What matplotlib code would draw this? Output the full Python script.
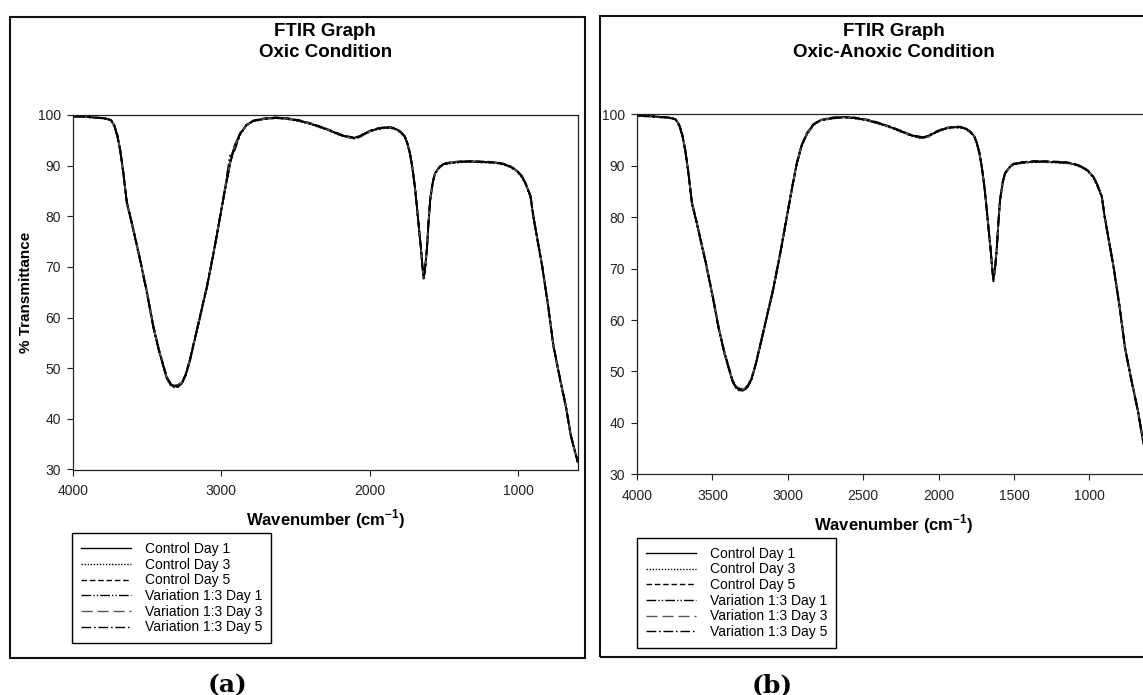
import matplotlib
matplotlib.use('Agg')
import matplotlib.pyplot as plt
from matplotlib.patches import Rectangle

plt.rcParams['font.family'] = ['Liberation Sans', 'DejaVu Sans']
plt.rcParams['mathtext.fontset'] = 'custom'
plt.rcParams['mathtext.rm'] = 'Liberation Sans'
plt.rcParams['mathtext.bf'] = 'Liberation Sans:bold'

# wavenumber grid (cm-1)
wn = [4000, 3950, 3900, 3850, 3800, 3760, 3740, 3720, 3700, 3680,
      3660, 3636, 3600, 3546, 3500, 3457, 3420, 3389, 3365, 3340,
      3315, 3290, 3265, 3240, 3210, 3160, 3097, 3050, 3007, 2970,
      2940, 2910, 2873, 2830, 2786, 2738, 2700, 2632, 2560, 2477,
      2400, 2300, 2190, 2150, 2112, 2070, 2035, 1990, 1946, 1900,
      1858, 1820, 1792, 1765, 1747, 1730, 1714, 1695, 1681, 1665,
      1655, 1645, 1637, 1628, 1615, 1605, 1593, 1575, 1560, 1530,
      1505, 1450, 1372, 1300, 1220, 1151, 1100, 1053, 1010, 974,
      950, 918, 900, 870, 840, 800, 764, 720, 680, 645, 600]

# % transmittance, control samples
ctrl_d1 = [99.7, 99.7, 99.6, 99.5, 99.4, 99.2, 98.9, 97.9, 96.0, 93.0,
           88.8, 82.8, 78.4, 71.4, 64.9, 58.2, 53.6, 50.4, 48.0, 46.8,
           46.4, 46.5, 47.1, 48.6, 51.7, 58.0, 66.0, 73.0, 80.0, 86.0,
           90.5, 93.8, 96.3, 98.0, 98.8, 99.1, 99.3, 99.5, 99.3, 98.9,
           98.3, 97.3, 96.0, 95.7, 95.5, 95.7, 96.3, 96.9, 97.3, 97.5,
           97.5, 97.2, 96.6, 95.8, 94.4, 92.5, 89.8, 85.5, 81.4, 76.5,
           73.6, 70.0, 67.8, 69.5, 73.6, 78.5, 83.3, 86.8, 88.5, 89.7,
           90.3, 90.6, 90.8, 90.8, 90.7, 90.6, 90.3, 89.8, 89.0, 87.8,
           86.4, 84.0, 80.2, 75.2, 70.3, 62.5, 54.5, 48.0, 42.5, 36.5, 31.5]
ctrl_d3 = [99.8, 99.6, 99.6, 99.5, 99.3, 99.2, 98.8, 97.7, 95.8, 92.8,
           88.6, 82.6, 78.2, 71.2, 64.7, 58.0, 53.4, 50.2, 47.8, 46.6,
           46.2, 46.3, 47.0, 48.5, 51.5, 57.8, 65.8, 72.8, 79.8, 85.8,
           90.3, 93.6, 96.1, 97.9, 98.8, 99.0, 99.3, 99.4, 99.2, 98.8,
           98.2, 97.2, 95.9, 95.6, 95.3, 95.6, 96.2, 96.8, 97.2, 97.4,
           97.4, 97.1, 96.5, 95.7, 94.3, 92.3, 89.6, 85.3, 81.2, 76.3,
           73.4, 69.8, 67.5, 69.3, 73.4, 78.3, 83.1, 86.6, 88.4, 89.6,
           90.2, 90.5, 90.7, 90.7, 90.6, 90.5, 90.2, 89.7, 88.9, 87.6,
           86.2, 83.8, 80.0, 75.0, 70.1, 62.3, 54.3, 47.8, 42.3, 36.3, 31.3]
ctrl_d5 = [99.6, 99.7, 99.6, 99.4, 99.4, 99.1, 99.0, 98.0, 96.2, 93.2,
           89.0, 83.0, 78.6, 71.6, 65.1, 58.4, 53.8, 50.6, 48.2, 47.0,
           46.6, 46.7, 47.3, 48.8, 51.9, 58.2, 66.2, 73.2, 80.2, 86.2,
           90.7, 94.0, 96.4, 98.1, 98.9, 99.2, 99.4, 99.5, 99.4, 99.0,
           98.4, 97.4, 96.1, 95.8, 95.6, 95.8, 96.4, 97.0, 97.4, 97.6,
           97.6, 97.3, 96.7, 95.9, 94.5, 92.6, 89.9, 85.7, 81.6, 76.7,
           73.8, 70.2, 68.0, 69.7, 73.8, 78.7, 83.5, 87.0, 88.6, 89.8,
           90.4, 90.7, 90.9, 90.9, 90.8, 90.7, 90.4, 89.9, 89.1, 87.9,
           86.5, 84.1, 80.4, 75.4, 70.5, 62.7, 54.7, 48.2, 42.7, 36.7, 31.7]

# variation 1:3, oxic condition
oxic_v1 = [99.9, 99.8, 99.6, 99.5, 99.4, 99.2, 98.9, 97.8, 95.9, 92.9,
           88.7, 82.7, 78.3, 71.3, 64.8, 58.1, 53.5, 50.3, 47.9, 46.7,
           46.3, 46.4, 47.0, 48.5, 51.6, 57.9, 65.9, 72.9, 79.9, 86.4,
           92.2, 93.0, 96.2, 98.0, 98.8, 99.1, 99.3, 99.4, 99.3, 98.9,
           98.3, 97.3, 96.0, 95.7, 95.5, 95.7, 96.3, 96.9, 97.3, 97.5,
           97.5, 97.2, 96.6, 95.8, 94.4, 92.5, 89.8, 85.5, 81.4, 76.5,
           73.6, 70.0, 67.7, 69.5, 73.6, 78.5, 83.3, 86.8, 88.5, 89.7,
           90.3, 90.6, 90.8, 90.8, 90.7, 90.6, 90.3, 89.8, 89.0, 87.8,
           86.4, 84.0, 80.2, 75.2, 70.3, 62.5, 54.5, 48.0, 42.5, 36.5, 31.5]
oxic_v3 = [99.7, 99.6, 99.6, 99.5, 99.4, 99.2, 98.9, 97.9, 96.1, 93.1,
           88.9, 82.9, 78.5, 71.5, 65.0, 58.3, 53.7, 50.5, 48.1, 46.9,
           46.5, 46.6, 47.2, 48.7, 51.8, 58.1, 66.1, 73.1, 80.1, 86.1,
           90.6, 93.9, 96.3, 98.0, 98.8, 99.1, 99.3, 99.4, 99.3, 98.9,
           98.3, 97.3, 96.0, 95.6, 95.4, 95.6, 96.2, 96.9, 97.3, 97.5,
           97.5, 97.2, 96.6, 95.8, 94.4, 92.5, 89.8, 85.5, 81.4, 76.5,
           73.6, 70.0, 67.9, 69.6, 73.7, 78.6, 83.4, 86.9, 88.5, 89.7,
           90.3, 90.6, 90.8, 90.8, 90.7, 90.6, 90.3, 89.8, 89.0, 87.8,
           86.4, 84.0, 80.2, 75.2, 70.3, 62.5, 54.5, 48.0, 42.5, 36.5, 31.5]
oxic_v5 = [99.8, 99.7, 99.6, 99.5, 99.4, 99.2, 98.9, 97.9, 96.0, 93.0,
           88.8, 82.8, 78.4, 71.4, 64.9, 58.2, 53.6, 50.4, 48.0, 46.8,
           46.5, 46.4, 47.1, 48.6, 51.7, 58.0, 66.0, 73.0, 80.0, 86.0,
           90.5, 93.8, 96.3, 98.0, 98.8, 99.1, 99.2, 99.4, 99.3, 98.9,
           98.3, 97.3, 96.0, 95.7, 95.5, 95.7, 96.3, 96.9, 97.3, 97.5,
           97.5, 97.2, 96.6, 95.8, 94.4, 92.5, 89.8, 85.5, 81.4, 76.5,
           73.6, 70.0, 67.8, 69.5, 73.6, 78.5, 83.3, 86.8, 88.5, 89.7,
           90.3, 90.6, 90.8, 90.8, 90.7, 90.6, 90.3, 89.8, 89.0, 87.8,
           86.4, 84.0, 80.2, 75.2, 70.3, 62.5, 54.5, 48.0, 42.5, 36.5, 31.5]

# variation 1:3, oxic-anoxic condition
anox_v1 = [99.8, 99.7, 99.6, 99.5, 99.4, 99.2, 98.8, 97.8, 95.9, 92.9,
           88.7, 82.7, 78.3, 71.3, 64.8, 58.1, 53.5, 50.3, 47.9, 46.7,
           46.3, 46.4, 47.0, 48.5, 51.6, 57.9, 65.9, 72.9, 79.9, 85.9,
           90.4, 93.7, 96.2, 97.9, 98.8, 99.1, 99.3, 99.4, 99.3, 98.9,
           98.3, 97.3, 96.0, 95.7, 95.5, 95.7, 96.3, 96.9, 97.3, 97.5,
           97.5, 97.2, 96.6, 95.8, 94.4, 92.5, 89.8, 85.5, 81.4, 76.5,
           73.6, 70.0, 67.8, 69.5, 73.6, 78.5, 83.3, 86.8, 88.5, 89.7,
           90.3, 90.6, 90.8, 90.8, 90.7, 90.6, 90.3, 89.8, 89.0, 87.8,
           86.4, 84.0, 80.2, 75.2, 70.3, 62.5, 54.5, 48.0, 42.5, 36.5, 31.5]
anox_v3 = [99.7, 99.6, 99.6, 99.5, 99.4, 99.2, 98.9, 97.9, 96.1, 93.1,
           88.9, 82.9, 78.5, 71.5, 65.0, 58.3, 53.7, 50.5, 48.1, 46.9,
           46.5, 46.6, 47.2, 48.7, 51.8, 58.1, 66.1, 73.1, 80.1, 86.1,
           90.6, 93.9, 96.3, 98.0, 98.8, 99.1, 99.3, 99.4, 99.3, 98.9,
           98.3, 97.3, 96.0, 95.6, 95.4, 95.6, 96.2, 96.9, 97.3, 97.5,
           97.5, 97.2, 96.6, 95.8, 94.4, 92.5, 89.8, 85.5, 81.4, 76.5,
           73.6, 70.0, 67.9, 69.6, 73.7, 78.6, 83.4, 86.9, 88.5, 89.7,
           90.3, 90.6, 90.8, 90.8, 90.7, 90.6, 90.3, 89.8, 89.0, 87.8,
           86.4, 84.0, 80.2, 75.2, 70.3, 62.5, 54.5, 48.0, 42.5, 36.5, 31.5]
anox_v5 = [99.8, 99.7, 99.6, 99.5, 99.4, 99.2, 98.9, 97.9, 96.0, 93.0,
           88.8, 82.8, 78.4, 71.4, 64.9, 58.2, 53.6, 50.4, 48.0, 46.8,
           46.5, 46.4, 47.1, 48.6, 51.7, 58.0, 66.0, 73.0, 80.0, 86.0,
           90.5, 93.8, 96.3, 98.0, 98.8, 99.1, 99.2, 99.4, 99.3, 98.9,
           98.3, 97.3, 96.0, 95.7, 95.5, 95.7, 96.3, 96.9, 97.3, 97.5,
           97.5, 97.2, 96.6, 95.8, 94.4, 92.5, 89.8, 85.5, 81.4, 76.5,
           73.6, 70.0, 67.8, 69.5, 73.6, 78.5, 83.3, 86.8, 88.5, 89.7,
           90.3, 90.6, 90.8, 90.8, 90.7, 90.6, 90.3, 89.8, 89.0, 87.8,
           86.4, 84.0, 80.2, 75.2, 70.3, 62.5, 54.5, 48.0, 42.5, 36.5, 31.5]

labels = ['Control Day 1', 'Control Day 3', 'Control Day 5',
          'Variation 1:3 Day 1', 'Variation 1:3 Day 3', 'Variation 1:3 Day 5']
styles = [('-', 'black'),
          ((0, (1, 1.2)), 'black'),
          ((0, (4, 2)), 'black'),
          ((0, (7, 1.5, 1, 1.5, 1, 1.5)), 'black'),
          ((0, (8, 3.5)), '#555555'),
          ((0, (7, 2, 1.2, 2)), 'black')]

W, H = 1143, 695


def fx(px):
    return px / W


def fy(py):
    return 1 - py / H


fig = plt.figure(figsize=(W / 100, H / 100), dpi=100)

# outer frames round each panel
for x0, x1, y0, y1 in [(10, 585, 16.5, 658), (600, 1160, 16, 657)]:
    fig.patches.append(Rectangle((fx(x0), fy(y1)), fx(x1) - fx(x0), fy(y0) - fy(y1),
                                 transform=fig.transFigure, fill=False,
                                 lw=1.5, ec='#111111'))

panels = [
    dict(box=(72.7, 577.7, 115, 469.5), series=[ctrl_d1, ctrl_d3, ctrl_d5, oxic_v1, oxic_v3, oxic_v5],
         title='FTIR Graph\nOxic Condition', ticks=[4000, 3000, 2000, 1000],
         xlab_y=525, leg=(71.6, 533), tag='(a)', tag_x=227),
    dict(box=(637, 1149.8, 114.3, 474.3), series=[ctrl_d1, ctrl_d3, ctrl_d5, anox_v1, anox_v3, anox_v5],
         title='FTIR Graph\nOxic-Anoxic Condition', ticks=[4000, 3500, 3000, 2500, 2000, 1500, 1000],
         xlab_y=530, leg=(636.9, 537.7), tag='(b)', tag_x=772),
]

for p in panels:
    left, right, top, bottom = p['box']
    ax = fig.add_axes([fx(left), fy(bottom), fx(right) - fx(left), fy(top) - fy(bottom)])
    for vals, lab, (ls, col) in zip(p['series'], labels, styles):
        ax.plot(wn, vals, ls=ls, color=col, lw=1.3, label=lab)
    ax.set_xlim(4000, 600)
    ax.set_ylim(30, 100)
    ax.set_xticks(p['ticks'])
    ax.set_yticks(range(30, 101, 10))
    for s in ax.spines.values():
        s.set_linewidth(0.9)
        s.set_color('#222222')
    ax.tick_params(direction='out', length=4.5, width=0.8, labelsize=10,
                   labelcolor='#222222', color='#222222')
    ax.tick_params(axis='x', pad=6)
    ax.tick_params(axis='y', pad=4)

    cx = (left + right) / 2
    fig.text(fx(cx), fy(42), p['title'], ha='center', va='center',
             fontsize=13.5, fontweight='bold', linespacing=1.25)
    fig.text(fx(cx), fy(p['xlab_y']), r'Wavenumber (cm$^{\mathbf{-1}}$)',
             ha='center', va='baseline', fontsize=12, fontweight='bold')

    leg = ax.legend(loc='upper left', bbox_to_anchor=(fx(p['leg'][0]), fy(p['leg'][1])),
                    bbox_transform=fig.transFigure, borderaxespad=0, fancybox=False,
                    edgecolor='black', framealpha=1, fontsize=10, handlelength=3.6,
                    handletextpad=1.0, labelspacing=0.12, borderpad=0.65)
    leg.get_frame().set_linewidth(1.0)
    for h in leg.get_lines():
        h.set_linewidth(1.0)

    fig.text(fx(p['tag_x']), fy(685), p['tag'], ha='center', va='center',
             fontsize=18, fontweight='bold', family='DejaVu Serif')

fig.text(fx(26.5), fy(292), '% Transmittance', rotation=90, ha='center', va='center',
         fontsize=11, fontweight='bold')

fig.savefig('out.png', dpi=100)
